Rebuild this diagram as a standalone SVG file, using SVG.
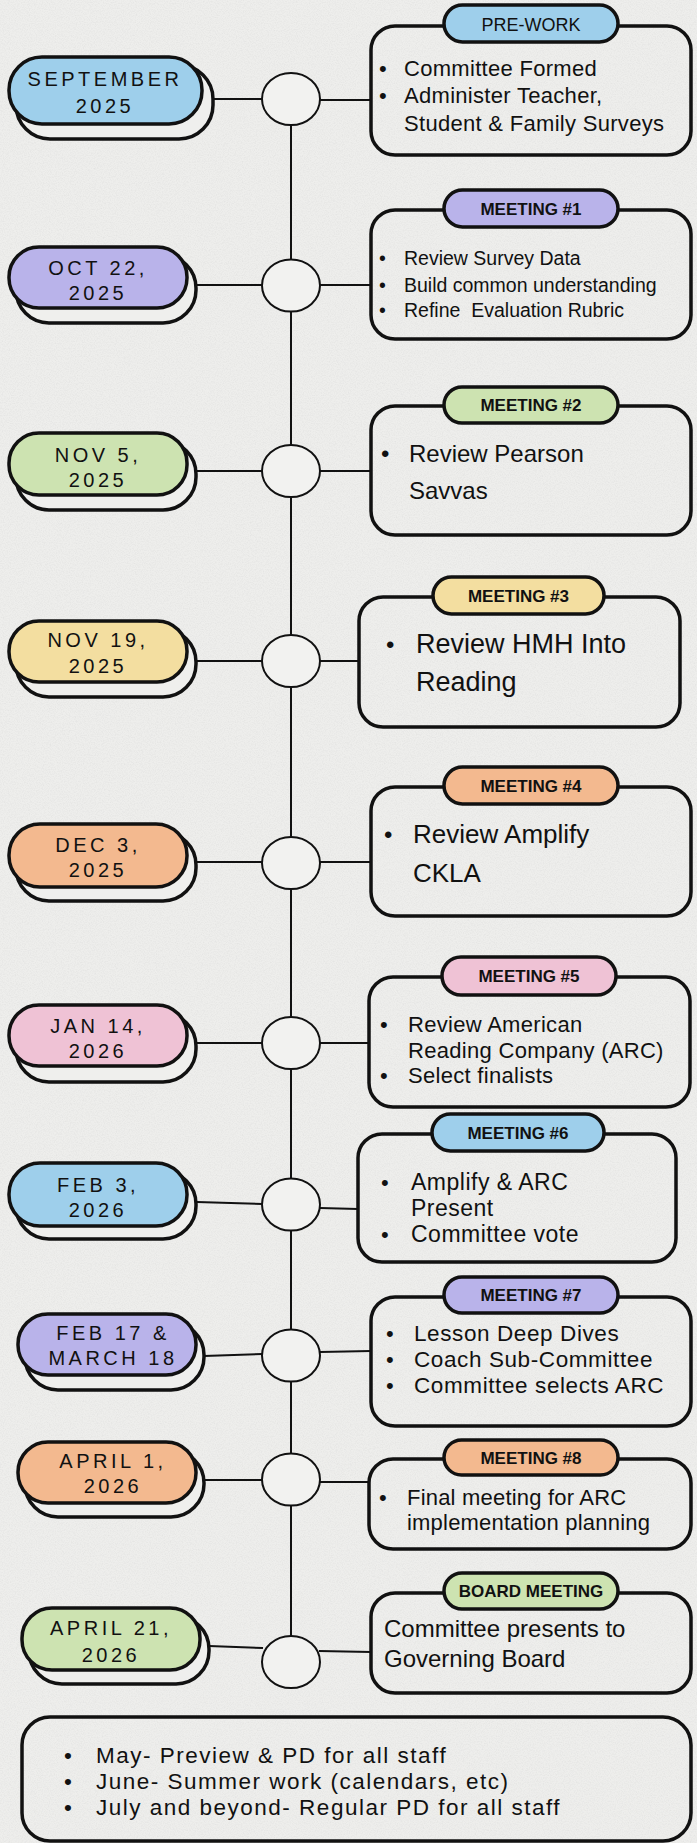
<svg xmlns="http://www.w3.org/2000/svg" width="697" height="1843" viewBox="0 0 697 1843">
<defs>
<filter id="paper" x="0" y="0" width="100%" height="100%">
<feTurbulence type="fractalNoise" baseFrequency="0.85" numOctaves="3" seed="7"/>
<feColorMatrix type="matrix" values="0 0 0 0 0.55  0 0 0 0 0.55  0 0 0 0 0.55  1.1 0 0 0 -0.42"/>
</filter>
<style>
.sh{fill:#efefed;stroke:#111;stroke-width:3.5}
.card{fill:none;stroke:#111;stroke-width:3.5}
.dot{fill:#f2f2f0;stroke:#111;stroke-width:2}
.blue{fill:#9ecfeb;stroke:#111;stroke-width:3.5}
.purple{fill:#b9b3ea;stroke:#111;stroke-width:3.5}
.green{fill:#cde3b1;stroke:#111;stroke-width:3.5}
.yellow{fill:#f3dea0;stroke:#111;stroke-width:3.5}
.orange{fill:#f3b98f;stroke:#111;stroke-width:3.5}
.pink{fill:#efc2d5;stroke:#111;stroke-width:3.5}
#connectors line{stroke:#111;stroke-width:2;fill:none}
text{font-family:"Liberation Sans",Arial,sans-serif;fill:#111}
.dt{font-size:20px;letter-spacing:3.5px;text-anchor:middle}
.tag{font-size:17px;font-weight:bold;text-anchor:middle}
.tagr{font-size:18px;text-anchor:middle}
.b{white-space:pre}
</style>
</defs>
<rect width="697" height="1843" fill="#eeeeec"/>
<rect width="697" height="1843" filter="url(#paper)" opacity="0.4"/>

<g id="connectors">
<line x1="291" y1="125" x2="291" y2="1636"/>
<line x1="202" y1="99" x2="262" y2="99"/>
<line x1="320" y1="100" x2="371" y2="100"/>
<line x1="196" y1="285" x2="262" y2="285"/>
<line x1="320" y1="285" x2="371" y2="285"/>
<line x1="196" y1="471" x2="262" y2="471"/>
<line x1="320" y1="471" x2="371" y2="471"/>
<line x1="196" y1="661" x2="262" y2="661"/>
<line x1="320" y1="661" x2="359" y2="661"/>
<line x1="196" y1="862" x2="262" y2="862"/>
<line x1="320" y1="862" x2="371" y2="862"/>
<line x1="196" y1="1043" x2="262" y2="1043"/>
<line x1="320" y1="1043" x2="369" y2="1043"/>
<line x1="197" y1="1202" x2="262" y2="1204"/>
<line x1="320" y1="1208" x2="358" y2="1209"/>
<line x1="204" y1="1356" x2="262" y2="1354"/>
<line x1="320" y1="1352" x2="371" y2="1351"/>
<line x1="204" y1="1480" x2="262" y2="1480"/>
<line x1="320" y1="1482" x2="369" y2="1482"/>
<line x1="209" y1="1646" x2="263" y2="1648"/>
<line x1="319" y1="1651" x2="371" y2="1652"/>
</g>

<!-- Date nodes -->
<g id="date-sep">
<rect class="sh" x="16" y="65" width="197" height="74" rx="34"/>
<rect class="blue" x="9" y="57" width="193" height="67" rx="33"/>
<text class="dt" x="105" y="86">SEPTEMBER</text>
<text class="dt" x="105" y="113">2025</text>
</g>
<g id="date-oct22">
<rect class="sh" x="16" y="255" width="180" height="68" rx="33"/>
<rect class="purple" x="9" y="247" width="178" height="61" rx="30"/>
<text class="dt" x="98" y="275">OCT 22,</text>
<text class="dt" x="98" y="300">2025</text>
</g>
<g id="date-nov5">
<rect class="sh" x="16" y="441" width="180" height="69" rx="33"/>
<rect class="green" x="9" y="433" width="178" height="62" rx="30"/>
<text class="dt" x="98" y="462">NOV 5,</text>
<text class="dt" x="98" y="487">2025</text>
</g>
<g id="date-nov19">
<rect class="sh" x="16" y="629" width="180" height="68" rx="33"/>
<rect class="yellow" x="9" y="621" width="178" height="61" rx="30"/>
<text class="dt" x="98" y="647">NOV 19,</text>
<text class="dt" x="98" y="673">2025</text>
</g>
<g id="date-dec3">
<rect class="sh" x="16" y="832" width="180" height="69" rx="33"/>
<rect class="orange" x="9" y="824" width="178" height="63" rx="31"/>
<text class="dt" x="98" y="852">DEC 3,</text>
<text class="dt" x="98" y="877">2025</text>
</g>
<g id="date-jan14">
<rect class="sh" x="16" y="1013" width="180" height="69" rx="33"/>
<rect class="pink" x="9" y="1005" width="178" height="61" rx="30"/>
<text class="dt" x="98" y="1033">JAN 14,</text>
<text class="dt" x="98" y="1058">2026</text>
</g>
<g id="date-feb3">
<rect class="sh" x="16" y="1171" width="180" height="68" rx="33"/>
<rect class="blue" x="9" y="1163" width="178" height="63" rx="31"/>
<text class="dt" x="98" y="1192">FEB 3,</text>
<text class="dt" x="98" y="1217">2026</text>
</g>
<g id="date-feb17">
<rect class="sh" x="25" y="1322" width="179" height="68" rx="33"/>
<rect class="purple" x="18" y="1314" width="178" height="61" rx="30"/>
<text class="dt" x="113" y="1340">FEB 17 &amp;</text>
<text class="dt" x="113" y="1365">MARCH 18</text>
</g>
<g id="date-apr1">
<rect class="sh" x="25" y="1450" width="179" height="67" rx="33"/>
<rect class="orange" x="18" y="1442" width="178" height="61" rx="30"/>
<text class="dt" x="113" y="1468">APRIL 1,</text>
<text class="dt" x="113" y="1493">2026</text>
</g>
<g id="date-apr21">
<rect class="sh" x="29" y="1616" width="180" height="68" rx="33"/>
<rect class="green" x="22" y="1608" width="178" height="62" rx="30"/>
<text class="dt" x="111" y="1635">APRIL 21,</text>
<text class="dt" x="111" y="1662">2026</text>
</g>

<!-- Timeline dots -->
<g id="dots">
<ellipse class="dot" cx="291" cy="99" rx="29" ry="26"/>
<ellipse class="dot" cx="291" cy="285.5" rx="29" ry="26"/>
<ellipse class="dot" cx="291" cy="471" rx="29" ry="26"/>
<ellipse class="dot" cx="291" cy="661" rx="29" ry="26"/>
<ellipse class="dot" cx="291" cy="863" rx="29" ry="26"/>
<ellipse class="dot" cx="291" cy="1043" rx="29" ry="26"/>
<ellipse class="dot" cx="291" cy="1204.5" rx="29" ry="26"/>
<ellipse class="dot" cx="291" cy="1355.5" rx="29" ry="26"/>
<ellipse class="dot" cx="291" cy="1479.5" rx="29" ry="26"/>
<ellipse class="dot" cx="291" cy="1662" rx="29" ry="26"/>
</g>

<!-- Cards -->
<g id="card-prework">
<rect class="card" x="371" y="26" width="320" height="129" rx="24"/>
<rect class="blue" x="444" y="5" width="174" height="37" rx="18.5"/>
<text class="tagr" x="531" y="31">PRE-WORK</text>
<g style="font-size:22px;letter-spacing:0.3px">
<text x="379" y="76">•</text><text x="404" y="76">Committee Formed</text>
<text x="379" y="103">•</text><text x="404" y="103">Administer Teacher,</text>
<text x="404" y="131">Student &amp; Family Surveys</text>
</g>
</g>
<g id="card-m1">
<rect class="card" x="371" y="210" width="320" height="129" rx="24"/>
<rect class="purple" x="444" y="190" width="174" height="37" rx="18.5"/>
<text class="tag" x="531" y="215">MEETING #1</text>
<g style="font-size:19.5px">
<text x="379" y="265">•</text><text x="404" y="265">Review Survey Data</text>
<text x="379" y="292">•</text><text x="404" y="292">Build common understanding</text>
<text x="379" y="317">•</text><text class="b" x="404" y="317">Refine  Evaluation Rubric</text>
</g>
</g>
<g id="card-m2">
<rect class="card" x="371" y="406" width="320" height="129" rx="24"/>
<rect class="green" x="444" y="387" width="174" height="36" rx="18"/>
<text class="tag" x="531" y="411">MEETING #2</text>
<g style="font-size:24px">
<text x="381" y="462">•</text><text x="409" y="462">Review Pearson</text>
<text x="409" y="499">Savvas</text>
</g>
</g>
<g id="card-m3">
<rect class="card" x="359" y="597" width="321" height="130" rx="24"/>
<rect class="yellow" x="433" y="577" width="171" height="37" rx="18.5"/>
<text class="tag" x="518.5" y="602">MEETING #3</text>
<g style="font-size:27px">
<text x="386" y="653" style="font-size:24px">•</text><text x="416" y="653">Review HMH Into</text>
<text x="416" y="691">Reading</text>
</g>
</g>
<g id="card-m4">
<rect class="card" x="371" y="787" width="320" height="129" rx="24"/>
<rect class="orange" x="444" y="767" width="174" height="37" rx="18.5"/>
<text class="tag" x="531" y="792">MEETING #4</text>
<g style="font-size:26px">
<text x="384" y="843" style="font-size:24px">•</text><text x="413" y="843">Review Amplify</text>
<text x="413" y="882">CKLA</text>
</g>
</g>
<g id="card-m5">
<rect class="card" x="369" y="977" width="321" height="130" rx="24"/>
<rect class="pink" x="442" y="957" width="174" height="38" rx="19"/>
<text class="tag" x="529" y="982">MEETING #5</text>
<g style="font-size:22px;letter-spacing:0.3px">
<text x="380" y="1032">•</text><text x="408" y="1032">Review American</text>
<text x="408" y="1058">Reading Company (ARC)</text>
<text x="380" y="1083">•</text><text x="408" y="1083">Select finalists</text>
</g>
</g>
<g id="card-m6">
<rect class="card" x="358" y="1134" width="318" height="128" rx="24"/>
<rect class="blue" x="432" y="1114" width="172" height="37" rx="18.5"/>
<text class="tag" x="518" y="1139">MEETING #6</text>
<g style="font-size:23px;letter-spacing:0.5px">
<text x="381" y="1190" style="font-size:22px">•</text><text x="411" y="1190">Amplify &amp; ARC</text>
<text x="411" y="1216">Present</text>
<text x="381" y="1242" style="font-size:22px">•</text><text x="411" y="1242">Committee vote</text>
</g>
</g>
<g id="card-m7">
<rect class="card" x="371" y="1297" width="320" height="129" rx="24"/>
<rect class="purple" x="444" y="1277" width="174" height="36" rx="18"/>
<text class="tag" x="531" y="1301">MEETING #7</text>
<g style="font-size:22.5px;letter-spacing:0.6px">
<text x="386" y="1341" style="font-size:22px">•</text><text x="414" y="1341">Lesson Deep Dives</text>
<text x="386" y="1367" style="font-size:22px">•</text><text x="414" y="1367">Coach Sub-Committee</text>
<text x="386" y="1393" style="font-size:22px">•</text><text x="414" y="1393">Committee selects ARC</text>
</g>
</g>
<g id="card-m8">
<rect class="card" x="369" y="1459" width="322" height="90" rx="24"/>
<rect class="orange" x="444" y="1440" width="174" height="35" rx="17.5"/>
<text class="tag" x="531" y="1464">MEETING #8</text>
<g style="font-size:22px;letter-spacing:0.2px">
<text x="379" y="1505">•</text><text x="407" y="1505">Final meeting for ARC</text>
<text x="407" y="1530">implementation planning</text>
</g>
</g>
<g id="card-board">
<rect class="card" x="371" y="1593" width="320" height="100" rx="24"/>
<rect class="green" x="444" y="1573" width="174" height="36" rx="18"/>
<text class="tag" x="531" y="1597">BOARD MEETING</text>
<g style="font-size:24px">
<text x="384" y="1637">Committee presents to</text>
<text x="384" y="1667">Governing Board</text>
</g>
</g>
<g id="next-steps">
<rect class="card" x="22" y="1717" width="669" height="124" rx="28"/>
<g style="font-size:22.5px;letter-spacing:1.5px">
<text x="64" y="1763" style="letter-spacing:0">•</text><text x="96" y="1763">May- Preview &amp; PD for all staff</text>
<text x="64" y="1789" style="letter-spacing:0">•</text><text x="96" y="1789">June- Summer work (calendars, etc)</text>
<text x="64" y="1815" style="letter-spacing:0">•</text><text x="96" y="1815">July and beyond- Regular PD for all staff</text>
</g>
</g>
</svg>
